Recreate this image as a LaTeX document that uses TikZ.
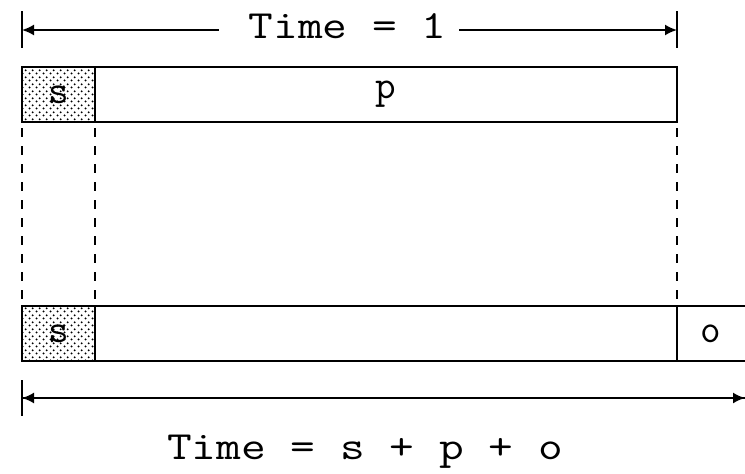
\documentclass[tikz,border=0pt]{standalone}
\usepackage{fontspec}
\usepackage{graphicx}
\usetikzlibrary{arrows.meta,patterns}
\pgfdeclarepatternformonly{sdots}{\pgfpointorigin}{\pgfqpoint{3.5pt}{3.5pt}}{\pgfqpoint{3.5pt}{3.5pt}}{%
  \pgfpathcircle{\pgfqpoint{0.875pt}{0.875pt}}{0.6pt}%
  \pgfpathcircle{\pgfqpoint{2.625pt}{2.625pt}}{0.6pt}%
  \pgfusepath{fill}}
\newcommand{\diagfont}{\fontsize{20}{24}\ttfamily}
\newcommand{\widetxt}[1]{\scalebox{1.2}[1]{#1}}
\begin{document}
\begin{tikzpicture}[x=0.5pt,y=-0.5pt,
  line width=0.9pt,
  every node/.style={inner sep=0pt,outer sep=0pt,font=\diagfont},
  cell/.style={draw,minimum height=27.5pt},
  scell/.style={cell,minimum width=36.5pt,pattern=sdots},
  pcell/.style={cell,minimum width=291pt},
  ocell/.style={minimum width=34pt,minimum height=27.5pt},
  guide/.style={line width=0.9pt,dash pattern=on 4.5pt off 4.5pt,dash phase=-3pt},
  tip/.style={-{Latex[length=6pt,width=5.5pt]}},
  revtip/.style={{Latex[length=6pt,width=5.5pt]}-},
  tick/.style={line width=0.9pt}]
\useasboundingbox (0,0) rectangle (745,473);
% top row
\node[scell] (s1) at (58.5,94.5) {s};
\node[pcell] (p1) at (386,94.5) {p};
% bottom row
\node[scell] (s2) at (58.5,333.5) {s};
\node[pcell] (m2) at (386,333.5) {};
\node[ocell] (o2) at (711,333.5) {o};
\draw (o2.north west) -- (o2.north east);
\draw (o2.south west) -- (o2.south east);
% dashed guides
\draw[guide] (s1.south west) -- (s2.north west);
\draw[guide] (s1.south east) -- (s2.north east);
\draw[guide] (p1.south east) -- (m2.north east);
% top dimension
\coordinate (tl) at (22,30);
\coordinate (tr) at (677,30);
\draw[tick] ([yshift=9.5pt]tl) -- ([yshift=-9pt]tl);
\draw[tick] ([yshift=9.5pt]tr) -- ([yshift=-9pt]tr);
\node[anchor=base] (tx) at (347.5,38) {\widetxt{Time = 1}};
\draw[revtip] (tl) -- ([xshift=-15pt]tx.west |- tl);
\draw[tip] ([xshift=6.5pt]tx.east |- tr) -- (tr);
% bottom dimension
\coordinate (bl) at (22,398);
\coordinate (br) at (745,398);
\draw[tick] ([yshift=9pt]bl) -- ([yshift=-9pt]bl);
\draw[revtip] (bl) -- (br);
\draw[tip] (bl) -- (br);
\node[anchor=base] (bx) at (365,459) {\widetxt{Time = s + p + o}};
\end{tikzpicture}
\end{document}
